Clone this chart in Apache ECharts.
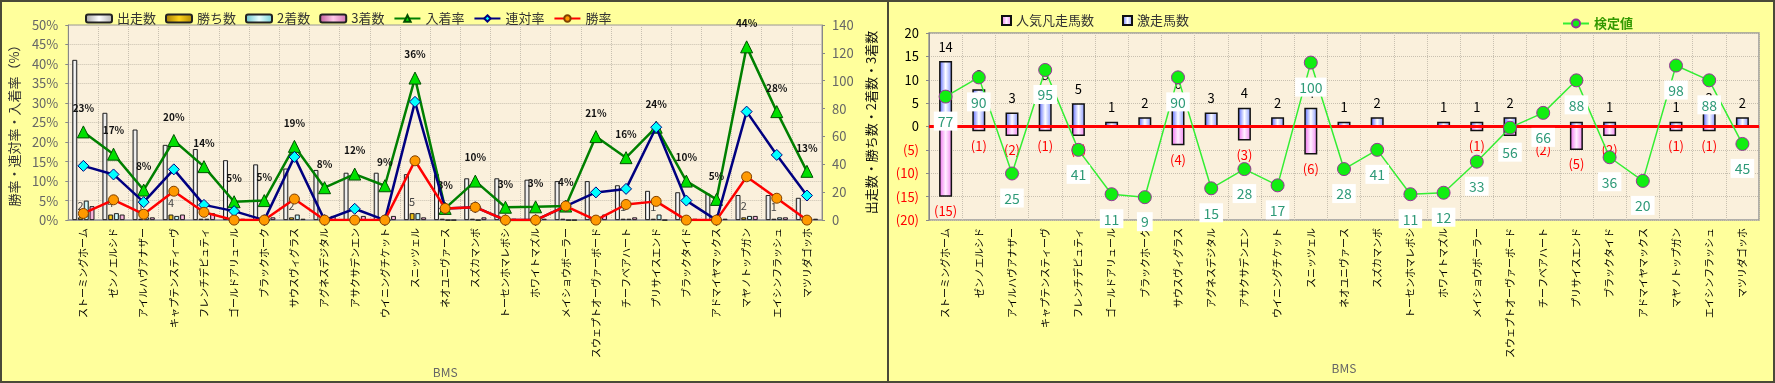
<!DOCTYPE html>
<html>
<head>
<meta charset="utf-8">
<script src="https://cdn.jsdelivr.net/npm/echarts@6/dist/echarts.min.js"></script>
<style>
  html, body { margin: 0; padding: 0; }
  #wrap { position: relative; width: 1775px; height: 383px; background: #ffff9c; overflow: hidden; }
  #left { position: absolute; left: 0; top: 0; width: 888px; height: 383px; }
  #right { position: absolute; left: 888px; top: 0; width: 887px; height: 383px; }
  #frame { position: absolute; left: 0; top: 0; width: 1775px; height: 383px; box-sizing: border-box; border: 2px solid #4a4a38; pointer-events: none; }
  #divider { position: absolute; left: 887px; top: 0; width: 2px; height: 383px; background: #4a4a38; }
</style>
</head>
<body>
<div id="wrap">
  <div id="left"></div>
  <div id="right"></div>
  <div id="frame"></div>
  <div id="divider"></div>
</div>
<script>
// 種牡馬(BMS)
const categories = ['ストーミングホーム', 'ゼンノエルシド', 'アイルハヴアナザー', 'キャプテンスティーヴ', 'フレンチデピュティ',
    'ゴールドアリュール', 'ブラックホーク', 'サウスヴィグラス', 'アグネスデジタル', 'アサクサデンエン',
    'ウイニングチケット', 'スニッツェル', 'ネオユニヴァース', 'スズカマンボ', 'トーセンホマレボシ',
    'ホワイトマズル', 'メイショウボーラー', 'スウェプトオーヴァーボード', 'チーフベアハート', 'プリサイスエンド',
    'ブラックタイド', 'アドマイヤマックス', 'マヤノトップガン', 'エイシンフラッシュ', 'マツリダゴッホ'];

// 左: 頭数
const runs = [115, 77, 65, 54, 51, 43, 40, 37, 36, 34, 34, 33, 33, 30, 30, 29, 28, 28, 25, 21, 20, 19, 18, 18, 16];
const wins = [2, 4, 1, 4, 1, 0, 0, 2, 0, 0, 0, 5, 1, 1, 0, 0, 1, 0, 1, 1, 0, 0, 2, 1, 0];
const seconds = [14, 5, 2, 3, 1, 1, 0, 4, 0, 1, 0, 5, 0, 0, 0, 0, 0, 2, 1, 4, 1, 0, 3, 2, 1];
const thirds = [10, 4, 2, 4, 5, 1, 2, 1, 3, 3, 3, 2, 0, 2, 1, 1, 0, 4, 2, 0, 1, 1, 3, 2, 1];
// 左: 率(%)
const showRate = [22.6, 16.9, 7.7, 20.4, 13.7, 4.7, 5.0, 18.9, 8.3, 11.8, 8.8, 36.4, 3.0, 10.0, 3.3, 3.4, 3.6, 21.4, 16.0, 23.8, 10.0, 5.3, 44.4, 27.8, 12.5];
const placeRate = [13.9, 11.7, 4.6, 13.0, 3.9, 2.3, 0, 16.2, 0, 2.9, 0, 30.3, 3.0, 3.3, 0, 0, 3.6, 7.1, 8.0, 23.8, 5.0, 0, 27.8, 16.7, 6.3];
const winRate = [1.7, 5.2, 1.5, 7.4, 2.0, 0, 0, 5.4, 0, 0, 0, 15.2, 3.0, 3.3, 0, 0, 3.6, 0, 4.0, 4.8, 0, 0, 11.1, 5.6, 0];

// 右: 激走・凡走・検定値
const gekisou = [14, 8, 3, 8, 5, 1, 2, 6, 3, 4, 2, 4, 1, 2, 0, 1, 1, 2, 0, 1, 1, 0, 1, 3, 2];
const bonsou = [15, 1, 2, 1, 2, 0, 0, 4, 0, 3, 0, 6, 0, 0, 0, 0, 1, 2, 2, 5, 2, 0, 1, 1, 0];
const kentei = [77, 90, 25, 95, 41, 11, 9, 90, 15, 28, 17, 100, 28, 41, 11, 12, 33, 56, 66, 88, 36, 20, 98, 88, 45];

const FONT = "'Noto Sans CJK JP', sans-serif";

function grad(c1, c2, c3) {
    return {
        type: 'linear', x: 0, y: 0, x2: 1, y2: 0,
        colorStops: [{ offset: 0, color: c1 }, { offset: 0.5, color: c2 }, { offset: 1, color: c3 }]
    };
}

function catAxis(gap) {
    return {
        type: 'category',
        data: categories,
        name: 'BMS',
        nameLocation: 'middle',
        nameGap: gap,
        nameTextStyle: { color: '#666', fontSize: 12, fontFamily: FONT },
        axisLine: { lineStyle: { color: '#999', width: 1.5 } },
        axisTick: { show: false },
        splitLine: { show: true, lineStyle: { color: '#c8c0b0', type: 'dotted' } },
        axisLabel: { rotate: 90, interval: 0, fontSize: 10, color: '#000', margin: 8, fontFamily: FONT }
    };
}

// 左グラフ
function drawLeft() {
    let chart = echarts.init(document.getElementById('left'));
    let barBorder = { borderColor: '#222', borderWidth: 1 };
    let option = {
        animation: false,
        textStyle: { fontFamily: FONT },
        legend: {
            left: 80, top: 7, itemGap: 9, itemWidth: 26, itemHeight: 8,
            textStyle: { fontSize: 13, color: '#333' },
            data: ['出走数', '勝ち数', '2着数', '3着数', '入着率', '連対率', '勝率']
        },
        grid: { left: 67, right: 66, top: 25, bottom: 150, show: true, backgroundColor: '#faf0dc', borderColor: '#999', borderWidth: 1 },
        xAxis: catAxis(133),
        yAxis: [
            {
                type: 'value', min: 0, max: 50, interval: 5,
                name: '勝率・連対率・入着率（%）', nameLocation: 'middle', nameGap: 45, nameRotate: 90,
                nameTextStyle: { fontSize: 13, color: '#333' },
                axisLine: { show: true, lineStyle: { color: '#888' } },
                axisTick: { show: true, length: 3, lineStyle: { color: '#888' } },
                axisLabel: { formatter: '{value}%', color: '#666', fontSize: 13, margin: 10 },
                splitLine: { lineStyle: { color: '#c8c0b0', type: 'dotted' } }
            },
            {
                type: 'value', min: 0, max: 140, interval: 20,
                name: '出走数・勝ち数・2着数・3着数', nameLocation: 'middle', nameGap: 42, nameRotate: 90,
                nameTextStyle: { fontSize: 13, color: '#111' },
                axisLine: { show: true, lineStyle: { color: '#888' } },
                axisTick: { show: true, length: 3, lineStyle: { color: '#888' } },
                axisLabel: { color: '#666', fontSize: 13, margin: 10 },
                splitLine: { show: false }
            }
        ],
        series: [
            {
                name: '出走数', type: 'bar', yAxisIndex: 1, data: runs, barWidth: 5, barGap: '15%',
                itemStyle: Object.assign({ color: grad('#a0a0a0', '#ffffff', '#b0b0b0') }, barBorder)
            },
            {
                name: '勝ち数', type: 'bar', yAxisIndex: 1, data: wins, barWidth: 5, barGap: '15%',
                itemStyle: Object.assign({ color: grad('#a07800', '#ffd21a', '#b08800') }, barBorder),
                label: {
                    show: true, position: 'top', distance: 6, fontSize: 11, color: '#444',
                    formatter: p => p.value > 0 ? p.value : ''
                }
            },
            {
                name: '2着数', type: 'bar', yAxisIndex: 1, data: seconds, barWidth: 5, barGap: '15%',
                itemStyle: Object.assign({ color: grad('#60c0c8', '#e8ffff', '#70d0d8') }, barBorder)
            },
            {
                name: '3着数', type: 'bar', yAxisIndex: 1, data: thirds, barWidth: 5, barGap: '15%',
                itemStyle: Object.assign({ color: grad('#c05898', '#ffc8e8', '#d070b0') }, barBorder)
            },
            {
                name: '入着率', type: 'line', data: showRate, z: 4,
                symbol: 'triangle', symbolSize: 12,
                lineStyle: { color: '#008000', width: 2.5 },
                itemStyle: { color: '#00e000', borderColor: '#005000', borderWidth: 1 },
                label: {
                    show: true, position: 'top', distance: 12, fontSize: 10, fontWeight: 'bold', color: '#111',
                    formatter: p => Math.round(p.value) + '%'
                }
            },
            {
                name: '連対率', type: 'line', data: placeRate, z: 5,
                symbol: 'diamond', symbolSize: 11,
                lineStyle: { color: '#000080', width: 2.5 },
                itemStyle: { color: '#00ffff', borderColor: '#000080', borderWidth: 1 }
            },
            {
                name: '勝率', type: 'line', data: winRate, z: 6,
                symbol: 'circle', symbolSize: 10,
                lineStyle: { color: '#ff0000', width: 2.5 },
                itemStyle: { color: '#ff9900', borderColor: '#804000', borderWidth: 1 }
            }
        ]
    };
    option && chart.setOption(option);
}

// 右グラフ
function drawRight() {
    let chart = echarts.init(document.getElementById('right'));
    let option = {
        animation: false,
        textStyle: { fontFamily: FONT },
        legend: [
            {
                left: 108, top: 9, itemGap: 28, itemWidth: 9, itemHeight: 9, icon: 'rect',
                textStyle: { fontSize: 13, color: '#333' },
                data: ['人気凡走馬数', '激走馬数']
            },
            {
                left: 669, top: 12, itemWidth: 26, itemHeight: 10,
                textStyle: { fontSize: 13, color: '#339900', fontWeight: 'bold' },
                data: ['検定値']
            }
        ],
        grid: { left: 41, right: 16, top: 33, bottom: 150, show: true, backgroundColor: '#faf0dc', borderColor: '#999', borderWidth: 1.5 },
        xAxis: catAxis(133),
        yAxis: [
            {
                type: 'value', min: -20, max: 20, interval: 5,
                axisLine: { show: true, lineStyle: { color: '#888' } },
                axisTick: { show: true, length: 3, lineStyle: { color: '#888' } },
                axisLabel: {
                    fontSize: 13, margin: 10,
                    formatter: v => v < 0 ? '(' + (-v) + ')' : String(v),
                    color: v => Number(v) < 0 ? '#ff0000' : '#000'
                },
                splitLine: { lineStyle: { color: '#c8c0b0', type: 'dotted' } }
            },
            { type: 'value', min: -6.5, max: 120, show: false, splitLine: { show: false } }
        ],
        series: [
            {
                name: '人気凡走馬数', type: 'bar', data: bonsou.map(v => -v), barWidth: 13, barGap: '-100%',
                itemStyle: { color: grad('#ee66ee', '#fff0ff', '#f080f0'), borderColor: '#111', borderWidth: 1.5 },
                label: {
                    show: true, position: 'bottom', distance: 8, fontSize: 13, color: '#ff0000',
                    formatter: p => p.value < 0 ? '(' + (-p.value) + ')' : ''
                },
                markLine: {
                    silent: true, symbol: 'none', label: { show: false },
                    lineStyle: { color: '#ff0000', width: 3, type: 'solid' },
                    data: [{ yAxis: 0 }]
                }
            },
            {
                name: '激走馬数', type: 'bar', data: gekisou, barWidth: 13, barGap: '-100%',
                itemStyle: { color: grad('#5060ff', '#ffffff', '#8090ff'), borderColor: '#111', borderWidth: 1.5 },
                label: {
                    show: true, position: 'top', distance: 8, fontSize: 13, color: '#000',
                    formatter: p => p.value > 0 ? p.value : ''
                }
            },
            {
                name: '検定値', type: 'line', yAxisIndex: 1, data: kentei, z: 6,
                symbol: 'circle', symbolSize: 13,
                lineStyle: { color: '#33ee33', width: 1.5 },
                itemStyle: { color: '#11ee11', borderColor: '#993399', borderWidth: 1 },
                label: {
                    show: true, position: 'bottom', distance: 8, fontSize: 14, color: '#2e9a78',
                    backgroundColor: '#ffffff', padding: [3, 4, 2, 4]
                }
            }
        ]
    };
    option && chart.setOption(option);
}

drawLeft();
drawRight();
</script>
</body>
</html>
